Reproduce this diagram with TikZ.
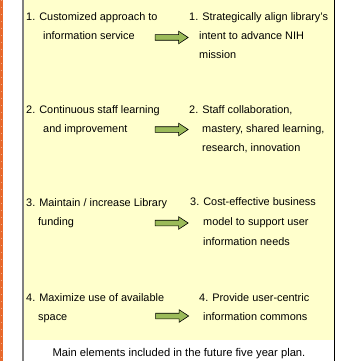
\documentclass[tikz,border=0pt]{standalone}
\usepackage{fontspec}
\setmainfont{Liberation Sans}
\usetikzlibrary{shapes.arrows, positioning}
\definecolor{panelyellow}{HTML}{FFFFCC}
\definecolor{arrowgreen}{HTML}{9BBB59}
\definecolor{stripeorange}{HTML}{E8692C}

\begin{document}
\begin{tikzpicture}[
                x=1pt, y=-1pt,
                item/.style={anchor=base west, inner sep=0pt, align=left, font=\fontsize{10.9}{19}\selectfont},
                goto/.style={single arrow, draw=black, fill=arrowgreen, line width=0.6pt, inner xsep=0pt, inner ysep=2.5pt, minimum height=33pt, single arrow head extend=3.5pt, single arrow tip angle=67},
                caption/.style={anchor=base, inner sep=0pt, font=\fontsize{11.2}{13}\selectfont}
            ]
                \useasboundingbox (0,0) rectangle (341,361);

                % Margins and panel
                \fill[stripeorange] (0,0) rectangle (3,361);
                \draw[white!45!stripeorange, line width=1pt, dash pattern=on 1pt off 6pt] (1.5,0) -- (1.5,361);
                \fill[panelyellow] (24,0) rectangle (334,340);
                \draw[gray, line width=2pt] (23,0) -- (23,361);
                \draw[black, line width=1pt] (334.5,0) -- (334.5,361);

                % Present focus (placed at the baseline of the last line)
                \node[item] (left1) at (26,40) {1. Customized approach to \\ \hspace*{17pt}information service};
                \node[item] (left2) at (26,132.5) {2. Continuous staff learning \\ \hspace*{17pt}and improvement};
                \node[item] (left3) at (26,225.5) {3. Maintain / increase Library \\ \hspace*{12pt}funding};
                \node[item] (left4) at (26,320) {4. Maximize use of available \\ \hspace*{12pt}space};

                % Future direction
                \node[item] (right1) at (189,59) {1. Strategically align library's \\ \hspace*{10pt}intent to advance NIH \\ \hspace*{10pt}mission};
                \node[item] (right2) at (189,151.5) {2. Staff collaboration, \\ \hspace*{13pt}mastery, shared learning, \\ \hspace*{13pt}research, innovation};
                \node[item, font=\fontsize{10.9}{19.8}\selectfont] (right3) at (190,245.5) {3. Cost-effective business \\ \hspace*{13pt}model to support user \\ \hspace*{13pt}information needs};
                \node[item] (right4) at (199,320) {4. Provide user-centric \\ \hspace*{4pt}information commons};

                % Arrows
                \node[goto] (arr1) at (169.5,37.5) {};
                \node[goto] (arr2) at (169.5,129.5) {};
                \node[goto] (arr3) at (169.5,223) {};
                \node[goto] (arr4) at (170,316) {};

                \node[caption] (cap) at (179,356) {Main elements included in the future five year plan.};
            \end{tikzpicture}
\end{document}
